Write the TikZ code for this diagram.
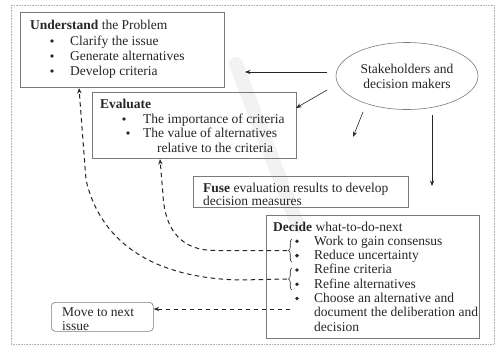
\documentclass[tikz,border=0pt]{standalone}
\usepackage{fontspec}
\setmainfont{Liberation Serif}
\usetikzlibrary{shapes.geometric,arrows.meta,decorations.pathreplacing}
\definecolor{ink}{HTML}{262626}
\definecolor{boxline}{HTML}{7A7A7A}
\definecolor{framec}{HTML}{B4B4B4}
\begin{document}
\begin{tikzpicture}[x=1pt,y=-1pt,
  every node/.style={font=\fontsize{13.5}{15}\selectfont, text=ink, inner sep=0pt},
  box/.style={draw=boxline, line width=0.6pt},
  txt/.style={anchor=base west},
  dot/.style={circle, fill=ink, minimum size=3.8pt, inner sep=0pt},
  tip/.style={-{Stealth[length=5.5pt,width=4.2pt]}},
  link/.style={draw=ink, line width=0.6pt, tip},
  back/.style={draw=ink, line width=1pt, dash pattern=on 4.5pt off 3.5pt, tip},
  bracer/.style={draw=ink, line width=0.6pt, decorate, decoration={brace, amplitude=3.5pt}}
]
\useasboundingbox (0,0) rectangle (497,349);
\fill[white] (0,0) rectangle (497,349);

% faint diagonal smear in the background
\draw[line width=14pt, black!5, line cap=round] (236,64) -- (298,226);

% outer frame
\draw[framec, line width=0.6pt, dash pattern=on 1pt off 0.6pt] (11,5) rectangle (494,344);

% boxes
\node[box, minimum width=204, minimum height=75, anchor=north west] (under) at (20,12) {};
\node[box, minimum width=204, minimum height=66, anchor=north west] (eval) at (92,92) {};
\node[box, minimum width=215, minimum height=31, anchor=north west] (fuse) at (193,176) {};
\node[box, minimum width=213, minimum height=123, anchor=north west] (decide) at (266,215) {};
\node[box, rounded corners=4pt, minimum width=102, minimum height=29, anchor=north west] (move) at (51,302) {};
\node[box, ellipse, minimum width=142, minimum height=67, align=center] (stake) at (407,76)
  {Stakeholders and\\decision makers};

% Understand the Problem
\node[txt] (uT) at (30,29) {\textbf{Understand} the Problem};
\node[dot] (ud1) at (52,41) {};
\node[dot] (ud2) at (52,56) {};
\node[dot] (ud3) at (52,71) {};
\node[txt] (u1) at (70,45) {Clarify the issue};
\node[txt] (u2) at (70,60) {Generate alternatives};
\node[txt] (u3) at (70,75) {Develop criteria};

% Evaluate
\node[txt] (eT) at (100,108) {\textbf{Evaluate}};
\node[dot] (ed1) at (124,119) {};
\node[dot] (ed2) at (128,133) {};
\node[txt] (e1) at (143,123) {The importance of criteria};
\node[txt] (e2) at (143,137) {The value of alternatives};
\node[txt] (e3) at (157,152) {relative to the criteria};

% Fuse
\node[txt] (f1) at (203,192) {\textbf{Fuse} evaluation results to develop};
\node[txt] (f2) at (203,205) {decision measures};

% Decide what-to-do-next
\node[txt] (dT) at (273,231) {\textbf{Decide} what-to-do-next};
\foreach \i/\t in {1/Work to gain consensus, 2/Reduce uncertainty, 3/Refine criteria,
                   4/Refine alternatives, 5/Choose an alternative and}{
  \node[dot] (dd\i) at (297,{231+14.3*\i-4}) {};
  \node[txt] (d\i) at (314,{231+14.3*\i}) {\t};
}
\node[txt] (d6) at (314,{231+14.3*6}) {document the deliberation and};
\node[txt] (d7) at (314,{231+14.3*7}) {decision};

% Move to next issue
\node[txt] (m1) at (62,316) {Move to next};
\node[txt] (m2) at (62,330) {issue};

% braces grouping the first four actions
\draw[bracer] (292,262) -- (292,239);
\draw[bracer] (292,290) -- (292,268);

% arrows from the stakeholders
\coordinate (s1) at (327,72);  \coordinate (t1) at (245,72);
\coordinate (s2) at (327,90);  \coordinate (t2) at (296,108);
\coordinate (s3) at (363,112); \coordinate (t3) at (353,137);
\coordinate (s4) at (432,115); \coordinate (t4) at (432,186);
\draw[link] (s1) -- (t1);
\draw[link] (s2) -- (t2);
\draw[link] (s3) -- (t3);
\draw[link] (s4) -- (t4);

% feedback loops from the decision step
\coordinate (b1) at (287,250.5);
\coordinate (b2) at (287,279);
\coordinate (b3) at (290,309);
\coordinate (evalIn) at (160,159);
\coordinate (underIn) at (79,88);
\draw[back] (b1) -- (215,250.5) .. controls (183,250.5) and (165,232) .. (163,195) -- (evalIn);
\draw[back] (b2) -- (240,280) .. controls (150,278) and (100,240) .. (86,180) -- (underIn);
\draw[back] (b3) -- (move.east |- b3);
\end{tikzpicture}
\end{document}
